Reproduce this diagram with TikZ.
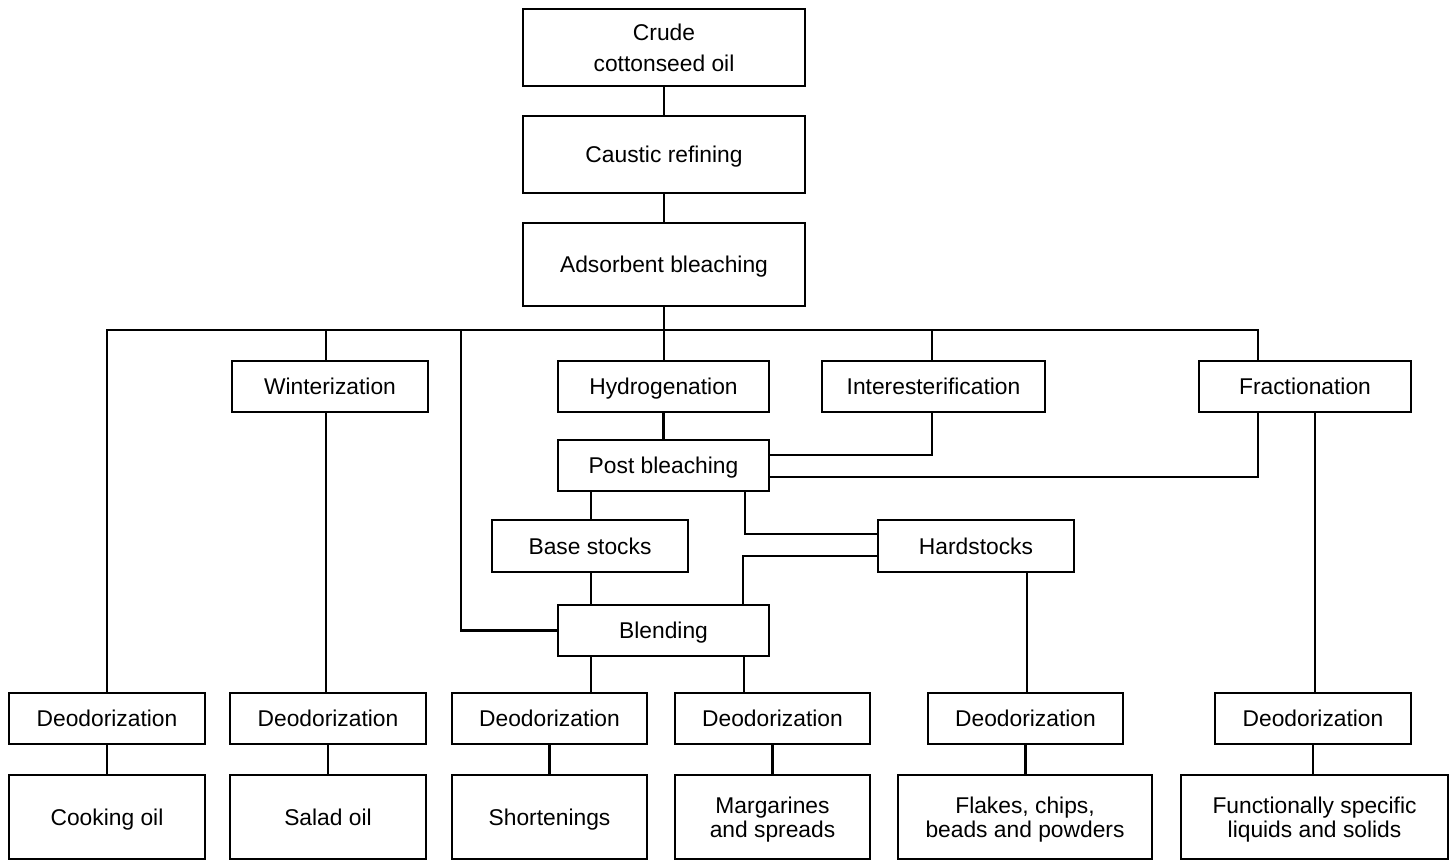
\documentclass[tikz,border=0pt]{standalone}
\usepackage{fontspec}
\setmainfont{Liberation Sans}
% one box from its corner coordinates: [extra style], name, x1, x2, y1, y2, text
\newcommand\flowbox[7][]{%
  \pgfmathsetmacro\bw{(#4-(#3))/2}%
  \pgfmathsetmacro\bh{(#6-(#5))/2}%
  \node[box, #1, minimum width=\bw pt, minimum height=\bh pt] (#2) at ({(#3+#4)/2},{(#5+#6)/2}) {#7};}
\begin{document}
\begin{tikzpicture}[x=0.5pt,y=-0.5pt,
  box/.style={draw, line width=1.1pt, inner sep=0pt, outer sep=0pt, align=center,
    text height=8.2pt, text depth=0pt, font=\fontsize{11.4}{12}\selectfont},
  twoline/.style={text height={}},
  link/.style={line width=1.1pt, line join=miter}]
\useasboundingbox (0,0) rectangle (1449,861);

% main refining line
\flowbox[twoline]{crude}{523}{805}{9}{86}{Crude\\[3.3pt]cottonseed oil}
\flowbox{caustic}{523}{805}{116}{193}{Caustic refining}
\flowbox{adsorb}{523}{805}{223}{306}{Adsorbent bleaching}

% modification processes
\flowbox{winter}{232}{428}{361}{412}{Winterization}
\flowbox{hydro}{558}{769}{361}{412}{Hydrogenation}
\flowbox{inter}{822}{1045}{361}{412}{Interesterification}
\flowbox{fract}{1199}{1411}{361}{412}{Fractionation}
\flowbox{post}{558}{769}{440}{491}{Post bleaching}
\flowbox{base}{492}{688}{520}{572}{Base stocks}
\flowbox{hard}{878}{1074}{520}{572}{Hardstocks}
\flowbox{blend}{558}{769}{605}{656}{Blending}

% deodorization row
\flowbox{d1}{9}{205}{693}{744}{Deodorization}
\flowbox{d2}{230}{426}{693}{744}{Deodorization}
\flowbox{d3}{452}{647}{693}{744}{Deodorization}
\flowbox{d4}{675}{870}{693}{744}{Deodorization}
\flowbox{d5}{928}{1123}{693}{744}{Deodorization}
\flowbox{d6}{1215}{1411}{693}{744}{Deodorization}

% products
\flowbox{p1}{9}{205}{775}{859}{Cooking oil}
\flowbox{p2}{230}{426}{775}{859}{Salad oil}
\flowbox{p3}{452}{647}{775}{859}{Shortenings}
\flowbox[twoline]{p4}{675}{870}{775}{859}{Margarines\\and spreads}
\flowbox[twoline]{p5}{898}{1152}{775}{859}{Flakes, chips,\\beads and powders}
\flowbox[twoline]{p6}{1181}{1448}{775}{859}{Functionally specific\\liquids and solids}

% routing points
\coordinate (busL) at (107,330);
\coordinate (busM) at (664,330);
\coordinate (busR) at (1258,330);
\coordinate (wx) at (326,330);
\coordinate (bl) at (461,330);
\coordinate (ix) at (932,330);
\coordinate (ip) at (932,455);
\coordinate (fp) at (1258,477);
\coordinate (bx) at (591,0);
\coordinate (hp) at (745,534);
\coordinate (hb) at (743,556);
\coordinate (mx) at (744,0);
\coordinate (kx) at (1027,0);
\coordinate (fx) at (1315,0);

% connectors
\draw[link] (crude.south) -- (caustic.north);
\draw[link] (caustic.south) -- (adsorb.north);
\draw[link] (adsorb.south) -- (busM);
\draw[link] (d1.north) -- (busL) -- (busR) -- (busR |- fract.north);
\draw[link] (wx) -- (wx |- winter.north);
\draw[link] (wx |- winter.south) -- (wx |- d2.north);
\draw[link] (bl) |- (blend.west);
\draw[link] (busM) -- (busM |- hydro.north);
\draw[link] (ix) -- (ix |- inter.north);
\draw[link] (ix |- inter.south) -- (ip) -- (ip -| post.east);
\draw[link] (busR |- fract.south) -- (fp) -- (fp -| post.east);
\draw[link] (hydro.south) -- (post.north);
\draw[link] (bx |- post.south) -- (bx |- base.north);
\draw[link] (hp |- post.south) -- (hp) -- (hp -| hard.west);
\draw[link] (hb -| hard.west) -- (hb) -- (hb |- blend.north);
\draw[link] (bx |- base.south) -- (bx |- blend.north);
\draw[link] (bx |- blend.south) -- (bx |- d3.north);
\draw[link] (mx |- blend.south) -- (mx |- d4.north);
\draw[link] (kx |- hard.south) -- (kx |- d5.north);
\draw[link] (fx |- fract.south) -- (fx |- d6.north);
\foreach \i in {1,...,6}
  \draw[link] (d\i.south) -- (d\i.south |- p\i.north);
\end{tikzpicture}
\end{document}
